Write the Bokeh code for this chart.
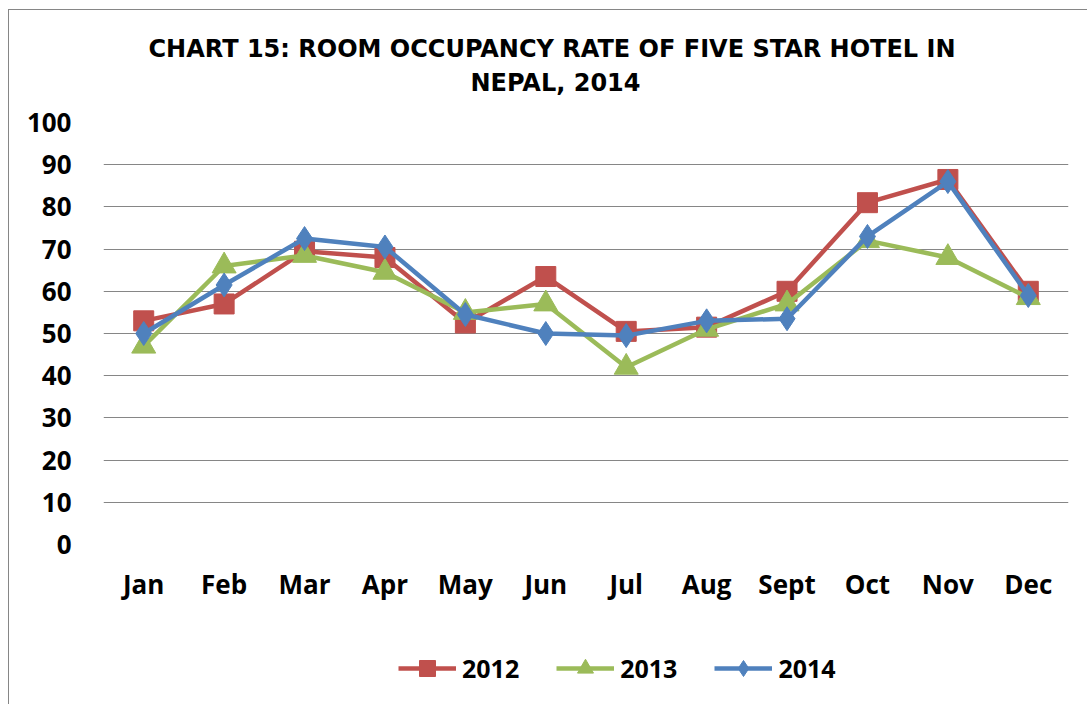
from bokeh.plotting import figure
from bokeh.layouts import column
from bokeh.models import Range1d, FactorRange, Title, Legend, LegendItem, ColumnDataSource
from bokeh.embed import file_html
from bokeh.resources import INLINE

months = ["Jan", "Feb", "Mar", "Apr", "May", "Jun", "Jul", "Aug", "Sept", "Oct", "Nov", "Dec"]
y2012 = [53, 57, 69.5, 68, 52.5, 63.5, 50.5, 51.5, 60, 81, 86.5, 60]
y2013 = [47, 66, 68.5, 64.5, 55, 57, 42, 51, 57, 72, 68, 58.5]
y2014 = [50, 61.5, 72.5, 70.5, 54.5, 50, 49.5, 53, 53.5, 73, 86, 59]
series_names = ["2012", "2013", "2014"]
yticks = list(range(0, 101, 10))
title_lines = ["CHART 15: ROOM OCCUPANCY RATE OF FIVE STAR HOTEL IN", "NEPAL, 2014"]

FONT = "Open Sans"
TFONT = "DejaVu Sans"
colors = ["#C0504D", "#9BBB59", "#4F81BD"]

p = figure(frame_width=965, frame_height=422, x_range=FactorRange(*months, range_padding=0),
           y_range=Range1d(0, 100), output_backend="svg", toolbar_location=None,
           min_border_left=94, min_border_right=19, min_border_top=112, min_border_bottom=70)
p.title = None

# stacked from the frame outward: spacer, second line, first line
p.add_layout(Title(text=" ", text_font=TFONT, text_font_size="12px", standoff=5), "above")
p.add_layout(Title(text=title_lines[1], align="left", offset=367, text_font=TFONT, text_font_size="24px",
                   text_font_style="bold", text_color="#000000", standoff=9), "above")
p.add_layout(Title(text=title_lines[0], align="left", offset=45, text_font=TFONT, text_font_size="24px",
                   text_font_style="bold", text_color="#000000", standoff=0), "above")

p.outline_line_color = None
p.background_fill_color = "white"
p.border_fill_color = "white"
p.xgrid.grid_line_color = None
p.ygrid.grid_line_color = "#868686"
p.ygrid.grid_line_width = 1.2
p.ygrid.ticker = yticks

p.yaxis.ticker = yticks
p.yaxis.axis_line_color = None
p.yaxis.major_tick_line_color = None
p.yaxis.minor_tick_line_color = None
p.yaxis.major_label_standoff = 26
p.yaxis.major_label_text_font = FONT
p.yaxis.major_label_text_font_size = "26px"
p.yaxis.major_label_text_font_style = "bold"
p.yaxis.major_label_text_color = "#000000"

p.xaxis.axis_line_color = None
p.xaxis.major_tick_line_color = None
p.xaxis.minor_tick_line_color = None
p.xaxis.major_label_standoff = 15
p.xaxis.major_label_text_font = FONT
p.xaxis.major_label_text_font_size = "26px"
p.xaxis.major_label_text_font_style = "bold"
p.xaxis.major_label_text_color = "#000000"

src = ColumnDataSource(dict(x=months, a=y2012, b=y2013, c=y2014))
cols = ["a", "b", "c"]
markers = ["square", "triangle", "diamond"]
msizes = [20, 24, 24]
for c, col, mk, ms in zip(cols, colors, markers, msizes):
    p.line("x", c, source=src, color=col, line_width=4.5)
    p.scatter("x", c, source=src, marker=mk, size=ms, fill_color=col, line_color=col)

# legend strip below the plot
p2 = figure(width=1078, height=90, x_range=FactorRange(*months), y_range=Range1d(0, 100),
            output_backend="svg", toolbar_location=None, x_axis_type=None, y_axis_type=None,
            min_border=0)
p2.outline_line_color = None
p2.xgrid.grid_line_color = None
p2.ygrid.grid_line_color = None
p2.background_fill_color = "white"
p2.border_fill_color = "white"
items = []
for name, c, col, mk in zip(series_names, cols, colors, markers):
    lr = p2.line("x", c, source=src, color=col, line_width=4.5, visible=False)
    sr = p2.scatter("x", c, source=src, marker=mk, size=20, fill_color=col, line_color=col, visible=False)
    items.append(LegendItem(label=name, renderers=[lr, sr]))

legend = Legend(items=items, orientation="horizontal", location=(295, 16),
                label_text_font=FONT, label_text_font_size="25px", label_text_font_style="bold",
                label_text_color="#000000", glyph_width=58, glyph_height=40, label_standoff=6,
                spacing=37, padding=0, margin=0, border_line_color=None, background_fill_alpha=0,
                inactive_fill_alpha=0)
p2.add_layout(legend, "center")

layout = column(p, p2, spacing=0,
                styles={"margin-left": "8px", "margin-top": "9px",
                        "border-left": "1px solid #868686", "border-top": "1px solid #868686"})

open("out.html", "w").write(file_html(layout, INLINE))
